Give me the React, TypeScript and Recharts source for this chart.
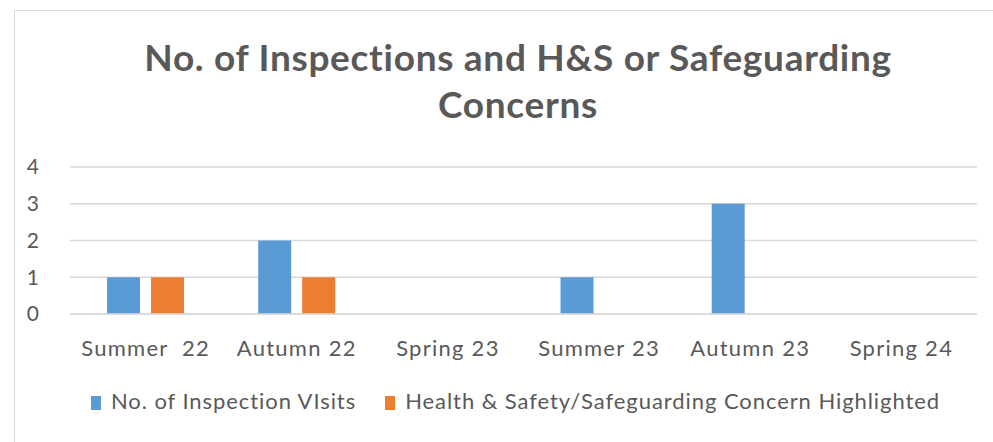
import { Bar, BarChart, CartesianGrid, Legend, XAxis, YAxis } from "recharts";

const terms = ["Summer  22", "Autumn 22", "Spring 23", "Summer 23", "Autumn 23", "Spring 24"];
const inspectionVisits = [1, 2, 0, 1, 3, 0];
const concernsHighlighted = [1, 1, 0, 0, 0, 0];
const yTicks = [0, 1, 2, 3, 4];

const visitsName = "No. of Inspection VIsits";
const concernsName = "Health & Safety/Safeguarding Concern Highlighted";

const data = terms.map((term, i) => ({
  term,
  visits: inspectionVisits[i],
  concerns: concernsHighlighted[i],
}));

const FONT = "Lato, 'Open Sans', sans-serif";
const TEXT = "#595959";

// recharts collapses runs of spaces in tick text, keep the double one
const keepSpaces = (value: string) => value.replace(/ {2}/g, " \u00A0");

function LegendContent() {
  const items = [
    { label: visitsName, color: "#5b9bd5" },
    { label: concernsName, color: "#ed7d31" },
  ];
  return (
    <div
      style={{
        display: "flex",
        justifyContent: "center",
        gap: 29,
        paddingLeft: 54,
        fontFamily: FONT,
        fontSize: 22,
        letterSpacing: 0.93,
        color: TEXT,
        lineHeight: "26px",
      }}
    >
      {items.map((item) => (
        <span key={item.label} style={{ display: "flex", alignItems: "center", whiteSpace: "pre" }}>
          <span
            style={{
              display: "inline-block",
              width: 10,
              height: 14,
              background: item.color,
              marginRight: 10,
              marginTop: 4,
            }}
          />
          {item.label}
        </span>
      ))}
    </div>
  );
}

export default function App() {
  return (
    <div
      style={{
        position: "absolute",
        left: 0,
        top: 0,
        width: 993,
        height: 442,
        background: "#fff",
        overflow: "hidden",
      }}
    >
      <div
        style={{
          position: "absolute",
          left: 14,
          top: 10,
          width: 1100,
          height: 600,
          border: "1px solid #d9d9d9",
        }}
      />
      <div
        style={{
          position: "absolute",
          left: 0,
          top: 33,
          width: 1036,
          textAlign: "center",
          fontFamily: FONT,
          fontWeight: 700,
          fontSize: 37,
          letterSpacing: 0.7,
          color: TEXT,
          lineHeight: "47px",
        }}
      >
        No. of Inspections and H&amp;S or Safeguarding
        <br />
        Concerns
      </div>
      <BarChart
        width={993}
        height={442}
        data={data}
        margin={{ top: 167, right: 16, bottom: 28, left: 0 }}
        barCategoryGap="24.5%"
        barGap={11}
        style={{ position: "absolute", left: 0, top: 0 }}
      >
        <CartesianGrid vertical={false} stroke="#d9d9d9" strokeWidth={1.5} />
        <XAxis
          dataKey="term"
          height={74}
          tickLine={false}
          axisLine={{ stroke: "#d9d9d9", strokeWidth: 1.5 }}
          tickMargin={20}
          tickFormatter={keepSpaces}
          tick={{ fill: TEXT, fontSize: 22, fontFamily: FONT, letterSpacing: 1.26 }}
          interval={0}
        />
        <YAxis
          width={70}
          domain={[0, 4]}
          ticks={yTicks}
          tickLine={false}
          axisLine={false}
          tickMargin={25}
          tick={{ fill: TEXT, fontSize: 21, fontFamily: FONT }}
        />
        <Legend verticalAlign="bottom" height={26} content={<LegendContent />} />
        <Bar dataKey="visits" name={visitsName} fill="#5b9bd5" isAnimationActive={false} />
        <Bar dataKey="concerns" name={concernsName} fill="#ed7d31" isAnimationActive={false} />
      </BarChart>
    </div>
  );
}
